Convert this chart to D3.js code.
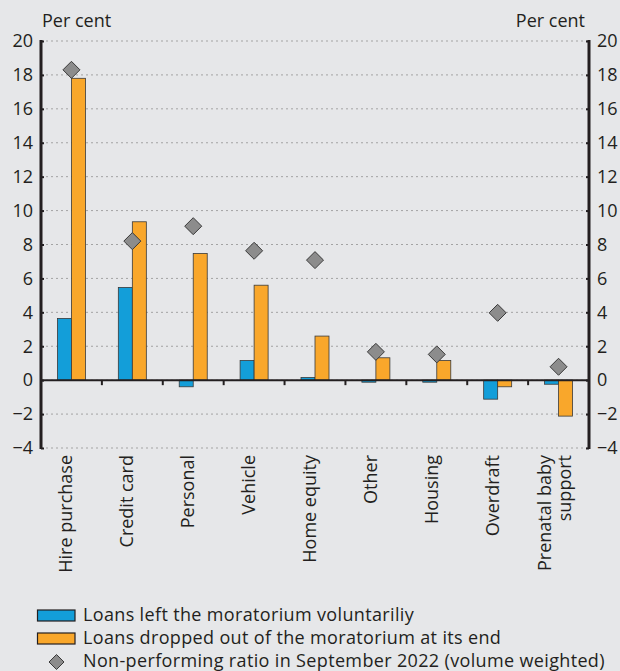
<!DOCTYPE html>
<html><head><meta charset="utf-8">
<script src="https://cdn.jsdelivr.net/npm/d3@7"></script>
<style>
html,body{margin:0;padding:0;background:#e6e7e9;}
svg{display:block;font-family:"Open Sans",sans-serif;}
</style></head><body>
<svg id="c" width="620" height="671"></svg>
<script>
const categories = ["Hire purchase","Credit card","Personal","Vehicle","Home equity","Other","Housing","Overdraft","Prenatal baby support"];
const voluntary = [3.64, 5.47, -0.39, 1.16, 0.16, -0.12, -0.12, -1.12, -0.24];
const atEnd = [17.8, 9.34, 7.47, 5.6, 2.6, 1.32, 1.16, -0.39, -2.12];
const npr = [18.3, 8.2, 9.08, 7.63, 7.08, 1.67, 1.52, 3.97, 0.79];
const yTicks = [-4,-2,0,2,4,6,8,10,12,14,16,18,20];
const seriesNames = ["Loans left the moratorium voluntariliy","Loans dropped out of the moratorium at its end","Non-performing ratio in September 2022 (volume weighted)"];
const colors = ["#139ed9","#f9a72b","#8c8c8c"];

const FS = "18px";
const svg = d3.select("#c");
const L = 41, R = 589, T = 41, B = 448;
const x = d3.scaleBand().domain(categories).range([L,R]);
const y = d3.scaleLinear().domain([-4,20]).range([B,T]);
const bw = 14;

// gridlines
svg.append("g").selectAll("line").data(yTicks).join("line")
  .attr("x1",L).attr("x2",R).attr("y1",d=>y(d)).attr("y2",d=>y(d))
  .attr("stroke","#a3a3a3").attr("stroke-width",1).attr("stroke-dasharray","2,3");

// bars
const g = svg.append("g");
g.selectAll("rect.v").data(voluntary).join("rect")
  .attr("x",(d,i)=>x(categories[i])+x.bandwidth()/2-bw)
  .attr("width",bw)
  .attr("y",d=>y(Math.max(0,d))).attr("height",d=>Math.abs(y(d)-y(0)))
  .attr("fill",colors[0]).attr("stroke","#3a3a3a").attr("stroke-width",0.8);
g.selectAll("rect.e").data(atEnd).join("rect")
  .attr("x",(d,i)=>x(categories[i])+x.bandwidth()/2)
  .attr("width",bw)
  .attr("y",d=>y(Math.max(0,d))).attr("height",d=>Math.abs(y(d)-y(0)))
  .attr("fill",colors[1]).attr("stroke","#3a3a3a").attr("stroke-width",0.8);

// zero line + x ticks
svg.append("line").attr("x1",L).attr("x2",R).attr("y1",y(0)).attr("y2",y(0))
  .attr("stroke","#231f20").attr("stroke-width",2);
svg.append("g").selectAll("line").data(categories.slice(1)).join("line")
  .attr("x1",d=>x(d)).attr("x2",d=>x(d)).attr("y1",y(0)).attr("y2",y(0)+5)
  .attr("stroke","#231f20").attr("stroke-width",2);

// diamonds
const ds = 8.5;
svg.append("g").selectAll("path").data(npr).join("path")
  .attr("transform",(d,i)=>`translate(${x(categories[i])+x.bandwidth()/2},${y(d)})`)
  .attr("d",`M0,${-ds}L${ds},0L0,${ds}L${-ds},0Z`)
  .attr("fill",colors[2]).attr("stroke","#3a3a3a").attr("stroke-width",1);

// axes
const fmt = d=>d<0?"\u2212"+Math.abs(d):d;
const yl = d3.axisLeft(y).tickValues(yTicks).tickSize(-3).tickPadding(8).tickFormat(fmt);
const yr = d3.axisRight(y).tickValues(yTicks).tickSize(-3).tickPadding(8).tickFormat(fmt);
function style(sel){
  sel.select(".domain").remove();
  sel.selectAll(".tick line").attr("stroke","#231f20").attr("stroke-width",2);
  sel.selectAll(".tick text").attr("fill","#231f20").style("font-size",FS).style("font-family","'Open Sans', sans-serif");
}
svg.append("g").attr("transform",`translate(${L},0)`).call(yl).call(style);
svg.append("g").attr("transform",`translate(${R},0)`).call(yr).call(style);
svg.append("line").attr("x1",L).attr("x2",L).attr("y1",T-1).attr("y2",B+1).attr("stroke","#231f20").attr("stroke-width",3);
svg.append("line").attr("x1",R).attr("x2",R).attr("y1",T-1).attr("y2",B+1).attr("stroke","#231f20").attr("stroke-width",3);

svg.append("text").attr("x",42).attr("y",27).text("Per cent").attr("fill","#231f20").style("font-size",FS);
svg.append("text").attr("x",585).attr("y",27).attr("text-anchor","end").text("Per cent").attr("fill","#231f20").style("font-size",FS);

// x labels
const xl = svg.append("g");
categories.forEach((c,i)=>{
  const cx = x(c)+x.bandwidth()/2;
  const lines = c==="Prenatal baby support" ? ["Prenatal baby","support"] : [c];
  const t = xl.append("text").attr("transform",`translate(${cx},455) rotate(-90)`)
    .attr("text-anchor","end").attr("fill","#231f20").style("font-size",FS);
  const offs = lines.length>1 ? [-7.5, 12.5] : [1];
  lines.forEach((s,j)=>{
    t.append("tspan").attr("x",0).attr("y",offs[j]).text(s);
  });
});

// legend
const lg = svg.append("g");
const ly = [615, 638, 660.5];
[0,1].forEach(i=>{
  lg.append("rect").attr("x",37.5).attr("y",ly[i]-5).attr("width",37.5).attr("height",11)
    .attr("fill",colors[i]).attr("stroke","#231f20").attr("stroke-width",1.2);
});
lg.append("path").attr("transform",`translate(56.5,${ly[2]+1.5})`)
  .attr("d","M0,-7.5L7.5,0L0,7.5L-7.5,0Z").attr("fill",colors[2]).attr("stroke","#3a3a3a").attr("stroke-width",1);
seriesNames.forEach((s,i)=>{
  lg.append("text").attr("x",83).attr("y",ly[i]).attr("dy","0.35em").text(s)
    .attr("fill","#231f20").style("font-size",FS).style("letter-spacing","0.35px");
});
</script></body></html>
